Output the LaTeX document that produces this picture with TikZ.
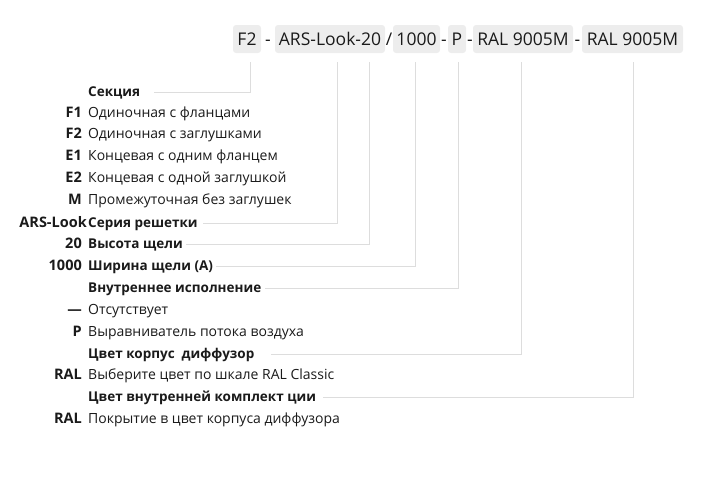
\documentclass[tikz,border=0pt]{standalone}
\usepackage{fontspec}
\setmainfont{Open Sans}
\usetikzlibrary{positioning}
\definecolor{boxgray}{HTML}{EDEDED}
\definecolor{linegray}{HTML}{DDDDDD}
\definecolor{ink}{HTML}{1A1A1A}

\begin{document}
\begin{tikzpicture}[x=1pt,y=-1pt,text=ink,
    codebox/.style={fill=boxgray, rounded corners=3pt, inner sep=0pt,
      minimum height=28pt, font=\fontsize{17.5}{20}\selectfont},
    sepsign/.style={inner sep=0pt, anchor=base, font=\fontsize{17.5}{20}\selectfont},
    lbl/.style={inner sep=0pt, text height=10pt, text depth=2pt,
      font=\fontsize{14}{16}\selectfont},
    head/.style={lbl, anchor=west, font=\fontsize{13.5}{16}\selectfont\bfseries},
    desc/.style={lbl, anchor=west},
    code/.style={lbl, anchor=east, font=\fontsize{14.5}{16}\selectfont\bfseries},
    leader/.style={draw=linegray, line width=1pt}]
  \useasboundingbox (0,0) rectangle (712,491);
  % article code
  \node[codebox, minimum width=28pt] (f2) at (247,39) {F2};
  \node[codebox, minimum width=110pt] (ars) at (330,39) {ARS-Look-20};
  \node[codebox, minimum width=47pt] (width) at (416.5,39) {1000};
  \node[codebox, minimum width=18pt] (pp) at (457,39) {P};
  \node[codebox, minimum width=100pt] (ral1) at (523,39) {RAL 9005M};
  \node[codebox, minimum width=101pt] (ral2) at (632.5,39) {RAL 9005M};
  \node[sepsign] (s1) at ([xshift=21pt]f2.base) {-};
  \node[sepsign] (s2) at ([xshift=59pt]ars.base) {/};
  \node[sepsign] (s3) at ([xshift=27.5pt]width.base) {-};
  \node[sepsign] (s4) at ([xshift=13pt]pp.base) {-};
  \node[sepsign] (s5) at ([xshift=54.5pt]ral1.base) {-};
  % headings
  \node[head] (sect) at (88,92) {Секция};
  \node[head] (series) at (88,223) {Серия решетки};
  \node[head] (height) at (88,244) {Высота щели};
  \node[head] (slot) at (88,266) {Ширина щели (A)};
  \node[head] (inner) at (88,288) {Внутреннее исполнение};
  \node[head] (body) at (88,354) {Цвет корпус\ \ диффузор};
  \node[head] (parts) at (88,397) {Цвет внутренней комплект ции};
  % codes and their meaning
  \foreach \y/\c/\d in {113/F1/Одиночная с фланцами, 134/F2/Одиночная с заглушками,
      156/E1/Концевая с одним фланцем, 178/E2/Концевая с одной заглушкой,
      200/M/Промежуточная без заглушек, 310/—/Отсутствует,
      332/P/Выравниватель потока воздуха, 375/RAL/Выберите цвет по шкале RAL Classic,
      419/RAL/Покрытие в цвет корпуса диффузора}{
    \node[code] (c\y) at (82,\y) {\c};
    \node[desc, right=6pt of c\y] (d\y) {\d};
  }
  \node[code] (cars) at (87,223) {ARS-Look};
  \node[code] (c20) at (82,244) {20};
  \node[code] (c1000) at (82,266) {1000};
  % leaders
  \draw[leader, shorten >=14pt] ([xshift=3pt, yshift=-9pt]f2.south) |- (sect.east);
  \draw[leader, shorten >=5pt] ([xshift=7pt, yshift=-9pt]ars.south) |- (series.east);
  \draw[leader, shorten >=3pt] ([xshift=39pt, yshift=-9pt]ars.south) |- (height.east);
  \draw[leader, shorten >=3pt] ([xshift=-1.5pt, yshift=-9pt]width.south) |- (slot.east);
  \draw[leader, shorten >=4pt] ([xshift=1pt, yshift=-9pt]pp.south) |- (inner.east);
  \draw[leader, shorten >=16pt] ([xshift=-2pt, yshift=-9pt]ral1.south) |- (body.east);
  \draw[leader, shorten >=7pt] ([xshift=0.5pt, yshift=-9pt]ral2.south) |- (parts.east);
\end{tikzpicture}
\end{document}
